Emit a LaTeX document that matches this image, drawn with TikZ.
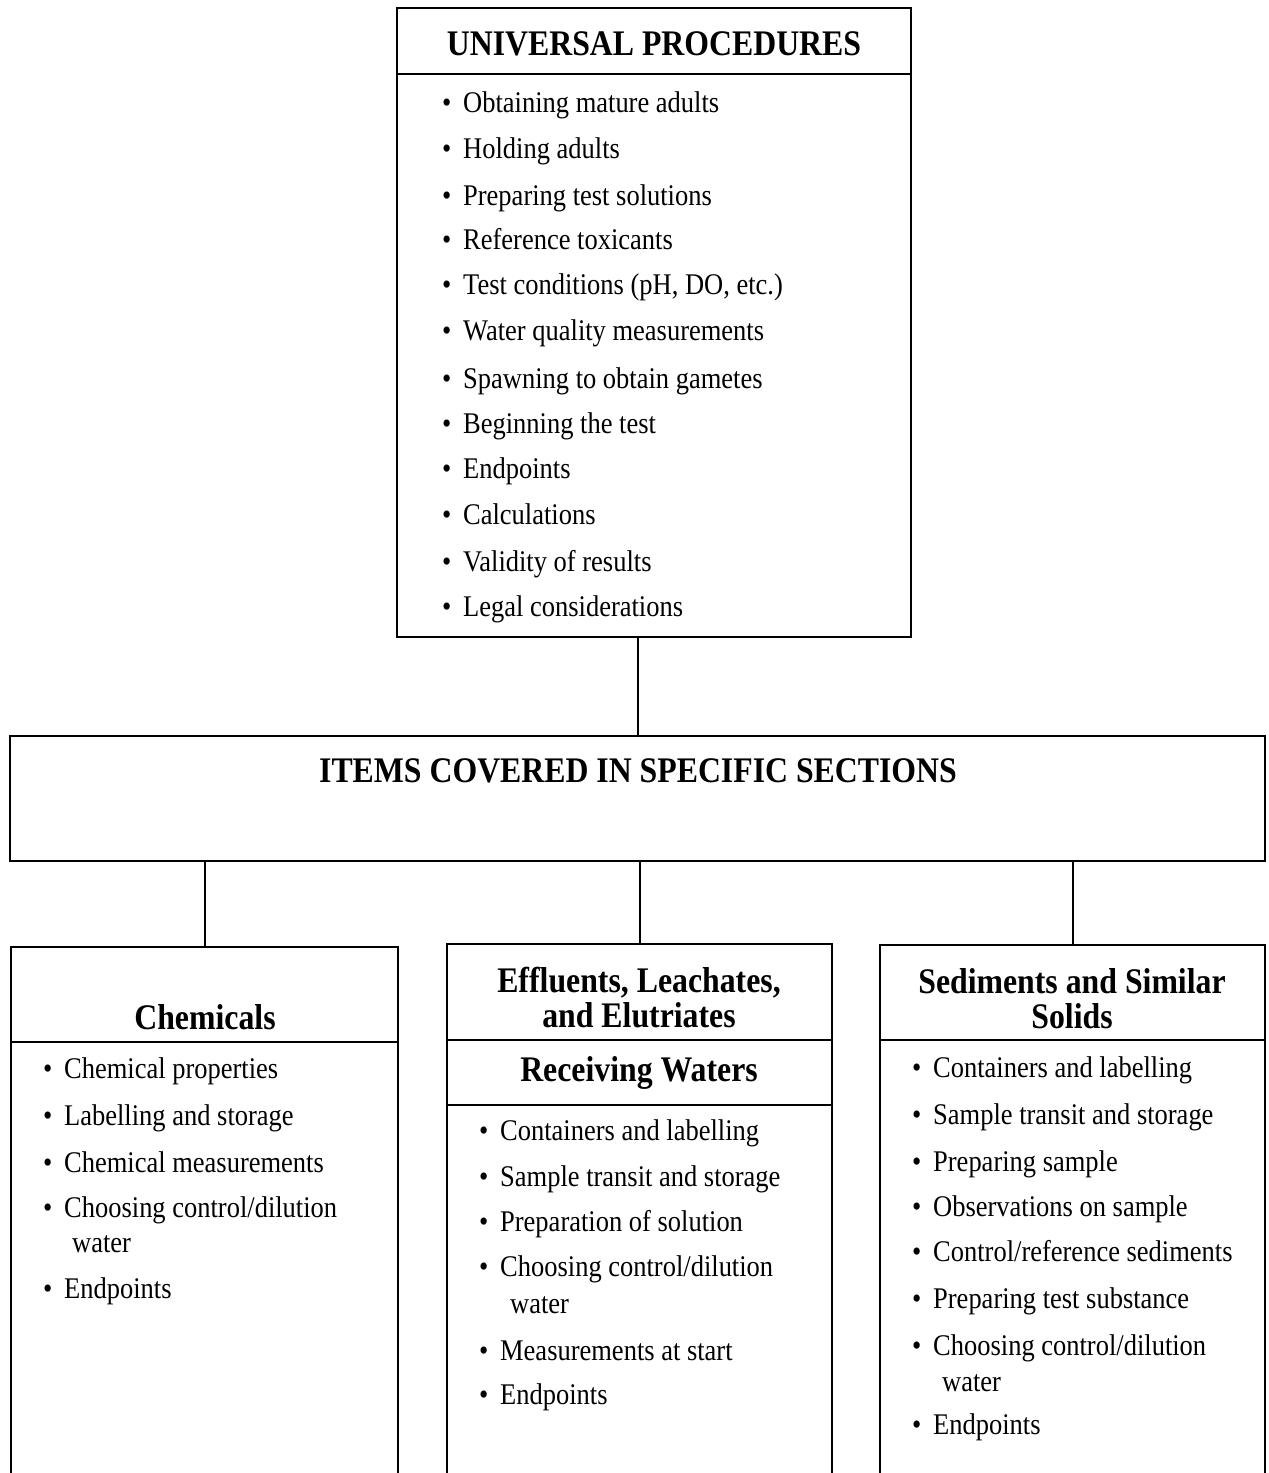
\documentclass[tikz,border=0pt]{standalone}
\usepackage{fontspec}
\setmainfont{Liberation Serif}[FakeStretch=0.883]
\usetikzlibrary{positioning}
\newcommand{\dotitem}{\makebox[21pt][l]{\textbullet}}

\begin{document}
\begin{tikzpicture}[
  x=1pt, y=-1pt,
  frame/.style={draw, line width=1.8pt, inner sep=0pt, outer sep=0pt, anchor=north west},
  heading/.style={font=\bfseries\fontsize{36}{38}\selectfont, anchor=base, inner sep=0pt},
  entry/.style={font=\fontsize{30}{34}\selectfont, anchor=base west, inner sep=0pt},
  link/.style={line width=2pt},
]
\useasboundingbox (0,0) rectangle (1269,1473);

% boxes
\node[frame, minimum width=514pt, minimum height=629pt] (univ) at (397,8) {};
\node[frame, minimum width=1255pt, minimum height=125pt] (items) at (10,736) {};
\node[frame, minimum width=387pt, minimum height=560pt] (chem) at (11,947) {};
\node[frame, minimum width=385pt, minimum height=560pt] (effl) at (447,944) {};
\node[frame, minimum width=385pt, minimum height=560pt] (sedi) at (880,945) {};

% header rules
\draw[link] (univ.west |- 0,74) -- (univ.east |- 0,74);
\draw[link] (chem.west |- 0,1042) -- (chem.east |- 0,1042);
\draw[link] (effl.west |- 0,1040) -- (effl.east |- 0,1040);
\draw[link] (effl.west |- 0,1105) -- (effl.east |- 0,1105);
\draw[link] (sedi.west |- 0,1040) -- (sedi.east |- 0,1040);

% connectors
\draw[link] (items.north) -- (items.north |- univ.south);
\draw[link] (chem.north) -- (chem.north |- items.south);
\draw[link] (effl.north) -- (effl.north |- items.south);
\draw[link] (sedi.north) -- (sedi.north |- items.south);

% headings
\node[heading] (univtitle) at (654,55) {UNIVERSAL PROCEDURES};
\node[heading] (itemstitle) at (638,782) {ITEMS COVERED IN SPECIFIC SECTIONS};
\node[heading] (chemtitle) at (205,1029) {Chemicals};
\node[heading] (effltitle) at (639,992) {Effluents, Leachates,};
\node[heading] (effltitleb) at (639,1027) {and Elutriates};
\node[heading] (recvtitle) at (639,1081) {Receiving Waters};
\node[heading] (seditle) at (1072,993) {Sediments and Similar};
\node[heading] (seditleb) at (1072,1028) {Solids};

% universal procedures
\node[entry] (u1) at (442,112) {\dotitem Obtaining mature adults};
\node[entry] (u2) at (442,158) {\dotitem Holding adults};
\node[entry] (u3) at (442,205) {\dotitem Preparing test solutions};
\node[entry] (u4) at (442,249) {\dotitem Reference toxicants};
\node[entry] (u5) at (442,294) {\dotitem Test conditions (pH, DO, etc.)};
\node[entry] (u6) at (442,340) {\dotitem Water quality measurements};
\node[entry] (u7) at (442,388) {\dotitem Spawning to obtain gametes};
\node[entry] (u8) at (442,433) {\dotitem Beginning the test};
\node[entry] (u9) at (442,478) {\dotitem Endpoints};
\node[entry] (u10) at (442,524) {\dotitem Calculations};
\node[entry] (u11) at (442,571) {\dotitem Validity of results};
\node[entry] (u12) at (442,616) {\dotitem Legal considerations};

% chemicals
\node[entry] (c1) at (43,1078) {\dotitem Chemical properties};
\node[entry] (c2) at (43,1125) {\dotitem Labelling and storage};
\node[entry] (c3) at (43,1172) {\dotitem Chemical measurements};
\node[entry] (c4) at (43,1217) {\dotitem Choosing control/dilution};
\node[entry] (c4b) at (72,1252) {water};
\node[entry] (c5) at (43,1298) {\dotitem Endpoints};

% effluents and receiving waters
\node[entry] (e1) at (479,1140) {\dotitem Containers and labelling};
\node[entry] (e2) at (479,1186) {\dotitem Sample transit and storage};
\node[entry] (e3) at (479,1231) {\dotitem Preparation of solution};
\node[entry] (e4) at (479,1276) {\dotitem Choosing control/dilution};
\node[entry] (e4b) at (510,1313) {water};
\node[entry] (e5) at (479,1360) {\dotitem Measurements at start};
\node[entry] (e6) at (479,1404) {\dotitem Endpoints};

% sediments
\node[entry] (s1) at (912,1077) {\dotitem Containers and labelling};
\node[entry] (s2) at (912,1124) {\dotitem Sample transit and storage};
\node[entry] (s3) at (912,1171) {\dotitem Preparing sample};
\node[entry] (s4) at (912,1216) {\dotitem Observations on sample};
\node[entry] (s5) at (912,1261) {\dotitem Control/reference sediments};
\node[entry] (s6) at (912,1308) {\dotitem Preparing test substance};
\node[entry] (s7) at (912,1355) {\dotitem Choosing control/dilution};
\node[entry] (s7b) at (942,1391) {water};
\node[entry] (s8) at (912,1434) {\dotitem Endpoints};
\end{tikzpicture}
\end{document}
